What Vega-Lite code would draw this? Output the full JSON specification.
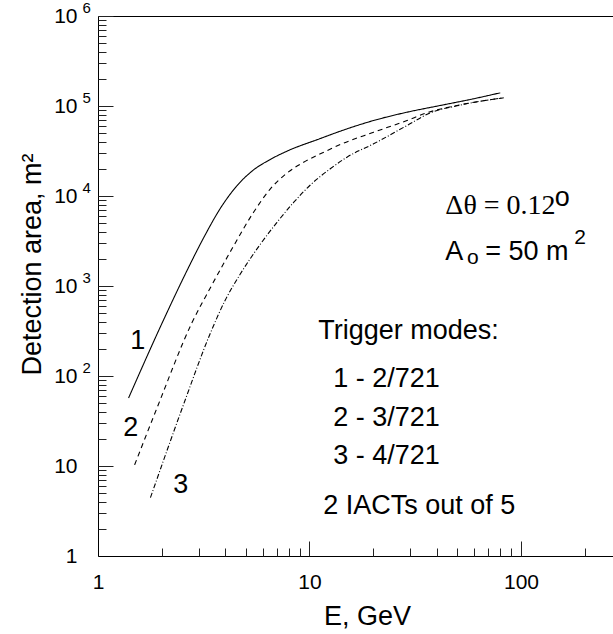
{
  "$schema": "https://vega.github.io/schema/vega-lite/v6.json",
  "width": 515,
  "height": 540,
  "autosize": {"type": "none"},
  "padding": {"left": 98, "top": 16, "right": 0, "bottom": 78},
  "background": "white",
  "config": {
    "view": {"stroke": null},
    "axis": {
      "grid": false,
      "domainColor": "#000000",
      "tickColor": "#222222",
      "labelColor": "#000000",
      "titleColor": "#000000",
      "labelFont": "Liberation Sans",
      "titleFont": "Liberation Sans",
      "titleFontWeight": "normal",
      "labelFlush": false,
      "labelOverlap": false
    }
  },
  "datasets": {
    "curves": [
      {"curve": "1", "E": 1.395, "A": 57},
      {"curve": "1", "E": 2.03, "A": 408},
      {"curve": "1", "E": 2.63, "A": 1470},
      {"curve": "1", "E": 3.16, "A": 3440},
      {"curve": "1", "E": 3.79, "A": 7300},
      {"curve": "1", "E": 4.54, "A": 13000},
      {"curve": "1", "E": 5.44, "A": 19500},
      {"curve": "1", "E": 6.53, "A": 25500},
      {"curve": "1", "E": 7.83, "A": 31500},
      {"curve": "1", "E": 11.25, "A": 43500},
      {"curve": "1", "E": 13.98, "A": 52500},
      {"curve": "1", "E": 20.1, "A": 69000},
      {"curve": "1", "E": 28.9, "A": 85300},
      {"curve": "1", "E": 41.5, "A": 101300},
      {"curve": "1", "E": 59.7, "A": 120300},
      {"curve": "1", "E": 79.8, "A": 140200},
      {"curve": "2", "E": 1.49, "A": 10.3},
      {"curve": "2", "E": 1.9, "A": 44},
      {"curve": "2", "E": 2.78, "A": 390},
      {"curve": "2", "E": 3.4, "A": 957},
      {"curve": "2", "E": 4.3, "A": 2590},
      {"curve": "2", "E": 5.44, "A": 6600},
      {"curve": "2", "E": 6.53, "A": 12000},
      {"curve": "2", "E": 7.83, "A": 18000},
      {"curve": "2", "E": 9.38, "A": 23750},
      {"curve": "2", "E": 11.25, "A": 29400},
      {"curve": "2", "E": 14.25, "A": 38000},
      {"curve": "2", "E": 20.1, "A": 51100},
      {"curve": "2", "E": 28.9, "A": 69000},
      {"curve": "2", "E": 35.9, "A": 84000},
      {"curve": "2", "E": 49.8, "A": 101300},
      {"curve": "2", "E": 82.7, "A": 123300},
      {"curve": "3", "E": 1.77, "A": 4.45},
      {"curve": "3", "E": 2.54, "A": 48.5},
      {"curve": "3", "E": 3.4, "A": 300},
      {"curve": "3", "E": 4.0, "A": 700},
      {"curve": "3", "E": 4.7, "A": 1350},
      {"curve": "3", "E": 5.85, "A": 2900},
      {"curve": "3", "E": 7.02, "A": 5100},
      {"curve": "3", "E": 8.41, "A": 8470},
      {"curve": "3", "E": 10.09, "A": 13250},
      {"curve": "3", "E": 12.54, "A": 20060},
      {"curve": "3", "E": 15.04, "A": 27000},
      {"curve": "3", "E": 20.1, "A": 38000},
      {"curve": "3", "E": 28.9, "A": 60700},
      {"curve": "3", "E": 37.3, "A": 84000},
      {"curve": "3", "E": 49.8, "A": 100500},
      {"curve": "3", "E": 82.7, "A": 123300}
    ],
    "sans": [
      {"label": "Trigger modes:", "E": 11.0, "A": 258},
      {"label": "1 - 2/721", "E": 12.96, "A": 75.4},
      {"label": "2 - 3/721", "E": 12.96, "A": 27.8},
      {"label": "3 - 4/721", "E": 12.96, "A": 10.5},
      {"label": "2 IACTs out of 5", "E": 11.62, "A": 2.93},
      {"label": "1", "E": 1.42, "A": 199.5},
      {"label": "2", "E": 1.317, "A": 21.5},
      {"label": "3", "E": 2.27, "A": 5.01},
      {"label": "A", "E": 43.9, "A": 1945},
      {"label": "= 50 m", "E": 67.8, "A": 1945}
    ],
    "serif": [
      {"label": "Δθ = 0.12", "E": 43.9, "A": 6340}
    ],
    "degree": [
      {"label": "o", "E": 144.5, "A": 7840}
    ],
    "small": [
      {"label": "o", "E": 55.6, "A": 1766},
      {"label": "2", "E": 178.6, "A": 2930}
    ]
  },
  "layer": [
    {
      "data": {"name": "curves"},
      "mark": {"type": "line", "color": "black", "strokeWidth": 1.1, "interpolate": "monotone"},
      "encoding": {
        "x": {
          "field": "E", "type": "quantitative",
          "scale": {"type": "log", "domain": [1, 272.3], "nice": false},
          "axis": {
            "orient": "bottom",
            "values": [1, 10, 100], "format": "d",
            "ticks": false, "labelPadding": 15, "labelFontSize": 21, "labelBaseline": "top",
            "title": "E, GeV", "titleFontSize": 27,
            "titleX": 269, "titleY": 68, "titleAlign": "center", "titleBaseline": "alphabetic", "titleAnchor": null
          }
        },
        "y": {
          "field": "A", "type": "quantitative",
          "scale": {"type": "log", "domain": [1, 1000000], "nice": false},
          "axis": {
            "orient": "left",
            "values": [1, 10, 100, 1000, 10000, 100000, 1000000],
            "labelExpr": "datum.value == 1 ? '1' : '10'",
            "ticks": false, "labelPadding": 21, "labelFontSize": 21, "labelBaseline": "middle", "labelAlign": "right",
            "title": "Detection area, m²", "titleFontSize": 27, "titleAngle": -90,
            "titleX": -58, "titleY": 248, "titleAlign": "center", "titleBaseline": "alphabetic", "titleAnchor": null
          }
        },
        "strokeDash": {
          "field": "curve", "type": "nominal",
          "scale": {"domain": ["1", "2", "3"], "range": [[1, 0], [5, 4], [5, 2, 1, 2]]},
          "legend": null
        }
      }
    },
    {
      "data": {"name": "sans"},
      "mark": {"type": "text", "font": "Liberation Sans", "fontSize": 27, "align": "left", "baseline": "alphabetic", "color": "black"},
      "encoding": {
        "x": {
          "field": "E", "type": "quantitative",
          "scale": {"type": "log", "domain": [1, 272.3], "nice": false},
          "axis": {
            "orient": "bottom", "values": [1, 10, 100],
            "offset": -15, "tickSize": 15, "labels": false, "domain": false, "title": null
          }
        },
        "y": {
          "field": "A", "type": "quantitative",
          "scale": {"type": "log", "domain": [1, 1000000], "nice": false},
          "axis": {
            "orient": "left", "values": [10, 100, 1000, 10000, 100000, 1000000],
            "offset": -15, "tickSize": 15, "labels": false, "domain": false, "title": null
          }
        },
        "text": {"field": "label"}
      }
    },
    {
      "data": {"name": "serif"},
      "mark": {"type": "text", "font": "Liberation Serif", "fontSize": 28, "align": "left", "baseline": "alphabetic", "color": "black"},
      "encoding": {
        "x": {
          "field": "E", "type": "quantitative",
          "scale": {"type": "log", "domain": [1, 272.3], "nice": false},
          "axis": {"orient": "top", "ticks": false, "labels": false, "domain": true, "title": null}
        },
        "y": {
          "field": "A", "type": "quantitative",
          "scale": {"type": "log", "domain": [1, 1000000], "nice": false},
          "axis": {
            "orient": "left",
            "values": [100, 1000, 10000, 100000, 1000000],
            "labelExpr": "'' + round(log(datum.value) / LN10)",
            "ticks": false, "domain": false, "labelAlign": "left", "labelPadding": 16,
            "labelFontSize": 15, "labelOffset": -9, "labelBaseline": "middle", "title": null
          }
        },
        "text": {"field": "label"}
      }
    },
    {
      "data": {"name": "degree"},
      "mark": {"type": "text", "font": "Liberation Sans", "fontSize": 27, "align": "left", "baseline": "alphabetic", "color": "black"},
      "encoding": {
        "x": {
          "field": "E", "type": "quantitative",
          "scale": {"type": "log", "domain": [1, 272.3], "nice": false},
          "axis": {
            "orient": "bottom",
            "values": [2, 3, 4, 5, 6, 7, 8, 9, 20, 30, 40, 50, 60, 70, 80, 90, 200],
            "offset": -8, "tickSize": 8, "labels": false, "domain": false, "title": null
          }
        },
        "y": {
          "field": "A", "type": "quantitative",
          "scale": {"type": "log", "domain": [1, 1000000], "nice": false},
          "axis": {
            "orient": "left",
            "values": [2, 3, 4, 5, 6, 7, 8, 9, 20, 30, 40, 50, 60, 70, 80, 90, 200, 300, 400, 500, 600, 700, 800, 900, 2000, 3000, 4000, 5000, 6000, 7000, 8000, 9000, 20000, 30000, 40000, 50000, 60000, 70000, 80000, 90000, 200000, 300000, 400000, 500000, 600000, 700000, 800000, 900000],
            "offset": -8, "tickSize": 8, "labels": false, "domain": false, "title": null
          }
        },
        "text": {"field": "label"}
      }
    },
    {
      "data": {"name": "small"},
      "mark": {"type": "text", "font": "Liberation Sans", "fontSize": 21, "align": "left", "baseline": "alphabetic", "color": "black"},
      "encoding": {
        "x": {"field": "E", "type": "quantitative", "scale": {"type": "log", "domain": [1, 272.3], "nice": false}, "axis": null},
        "y": {"field": "A", "type": "quantitative", "scale": {"type": "log", "domain": [1, 1000000], "nice": false}, "axis": null},
        "text": {"field": "label"}
      }
    }
  ],
  "resolve": {"axis": {"x": "independent", "y": "independent"}}
}
